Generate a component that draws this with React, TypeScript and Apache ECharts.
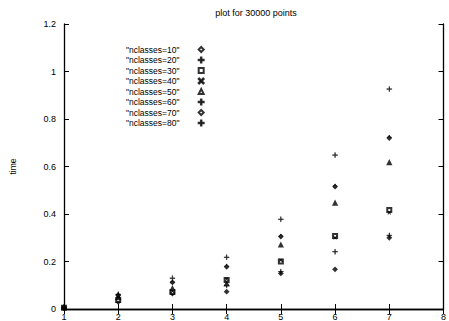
import React, { useEffect, useRef } from "react";
import * as echarts from "echarts";

const xValues = [1, 2, 3, 4, 5, 6, 7];
const seriesNames = [
  '"nclasses=10"',
  '"nclasses=20"',
  '"nclasses=30"',
  '"nclasses=40"',
  '"nclasses=50"',
  '"nclasses=60"',
  '"nclasses=70"',
  '"nclasses=80"',
];
const s10 = [0.004, 0.03, 0.065, 0.073, 0.15, 0.167, 0.3];
const s20 = [0.004, 0.04, 0.07, 0.1, 0.157, 0.241, 0.31];
const s30 = [0.005, 0.038, 0.072, 0.122, 0.2, 0.307, 0.417];
const s40 = [0.005, 0.045, 0.075, 0.125, 0.205, 0.3, 0.405];
const s50 = [0.006, 0.05, 0.085, 0.105, 0.269, 0.445, 0.616];
const s60 = [0.006, 0.055, 0.114, 0.18, 0.307, 0.518, 0.723];
const s70 = [0.007, 0.058, 0.112, 0.178, 0.305, 0.515, 0.72];
const s80 = [0.007, 0.062, 0.13, 0.218, 0.378, 0.648, 0.926];
const allSeries = [s10, s20, s30, s40, s50, s60, s70, s80];

const PLUS = "path://M4.5,0h1v4.5h4.5v1h-4.5v4.5h-1v-4.5h-4.5v-1h4.5z";
const CROSS =
  "path://M1,0L5,4L9,0L10,1L6,5L10,9L9,10L5,6L1,10L0,9L4,5L0,1z";
const STAR =
  "path://M4.5,0h1v4.5h4.5v1h-4.5v4.5h-1v-4.5h-4.5v-1h4.5z";
const symbols = [
  "emptyDiamond",
  PLUS,
  "emptyRect",
  CROSS,
  "emptyTriangle",
  STAR,
  "emptyDiamond",
  PLUS,
];
const sizes = [3, 5, 4, 3, 3, 4, 3, 5];

export default function App() {
  const ref = useRef<HTMLDivElement>(null);
  useEffect(() => {
    document.body.style.margin = "0";
    const chart = echarts.init(ref.current!, null, { renderer: "svg" });
    const font = "Liberation Sans, Helvetica, Arial, sans-serif";
    const axisCommon = {
      type: "value" as const,
      axisLine: { show: true, lineStyle: { color: "#000", width: 1.3 } },
      axisTick: { show: true, inside: true, length: 5, lineStyle: { color: "#000" } },
      splitLine: { show: false },
    };
    chart.setOption({
      animation: false,
      backgroundColor: "#fff",
      textStyle: { fontFamily: font },
      title: {
        text: "plot for 30000 points",
        left: 251,
        textAlign: "center",
        top: 3,
        textStyle: { fontSize: 9, fontWeight: "normal", color: "#000", fontFamily: font },
      },
      legend: {
        orient: "vertical",
        left: 121,
        top: 40,
        align: "right",
        itemGap: 1.5,
        itemWidth: 5,
        itemHeight: 5,
        formatter: (name: string) => name + "\u00a0\u00a0\u00a0\u00a0\u00a0\u00a0",
        textStyle: { fontSize: 8.5, color: "#000", fontFamily: font },
        data: seriesNames,
      },
      grid: { left: 57, right: 3, top: 24, bottom: 12 },
      xAxis: [
        {
          ...axisCommon,
          position: "bottom",
          min: 1,
          max: 8,
          interval: 1,
          axisLabel: { color: "#000", fontSize: 9, margin: 3, fontFamily: font },
        },
        {
          ...axisCommon,
          position: "top",
          min: 1,
          max: 8,
          interval: 1,
          axisLabel: { show: false },
        },
      ],
      yAxis: [
        {
          ...axisCommon,
          position: "left",
          min: 0,
          max: 1.2,
          interval: 0.2,
          name: "time",
          nameLocation: "middle",
          nameRotate: 90,
          nameGap: 47,
          nameTextStyle: { color: "#000", fontSize: 8.5, fontFamily: font },
          axisLabel: { color: "#000", fontSize: 9, margin: 8, fontFamily: font },
        },
        {
          ...axisCommon,
          position: "right",
          min: 0,
          max: 1.2,
          interval: 0.2,
          axisLabel: { show: false },
        },
      ],
      series: allSeries.map((vals, i) => ({
        type: "scatter",
        name: seriesNames[i],
        xAxisIndex: 0,
        yAxisIndex: 0,
        symbol: symbols[i],
        symbolSize: sizes[i],
        itemStyle: { color: "#000", borderColor: "#000", borderWidth: 0.6 },
        data: vals.map((v, j) => [xValues[j], v]),
      })),
    });
    return () => chart.dispose();
  }, []);
  return <div ref={ref} style={{ width: 449, height: 321 }} />;
}
